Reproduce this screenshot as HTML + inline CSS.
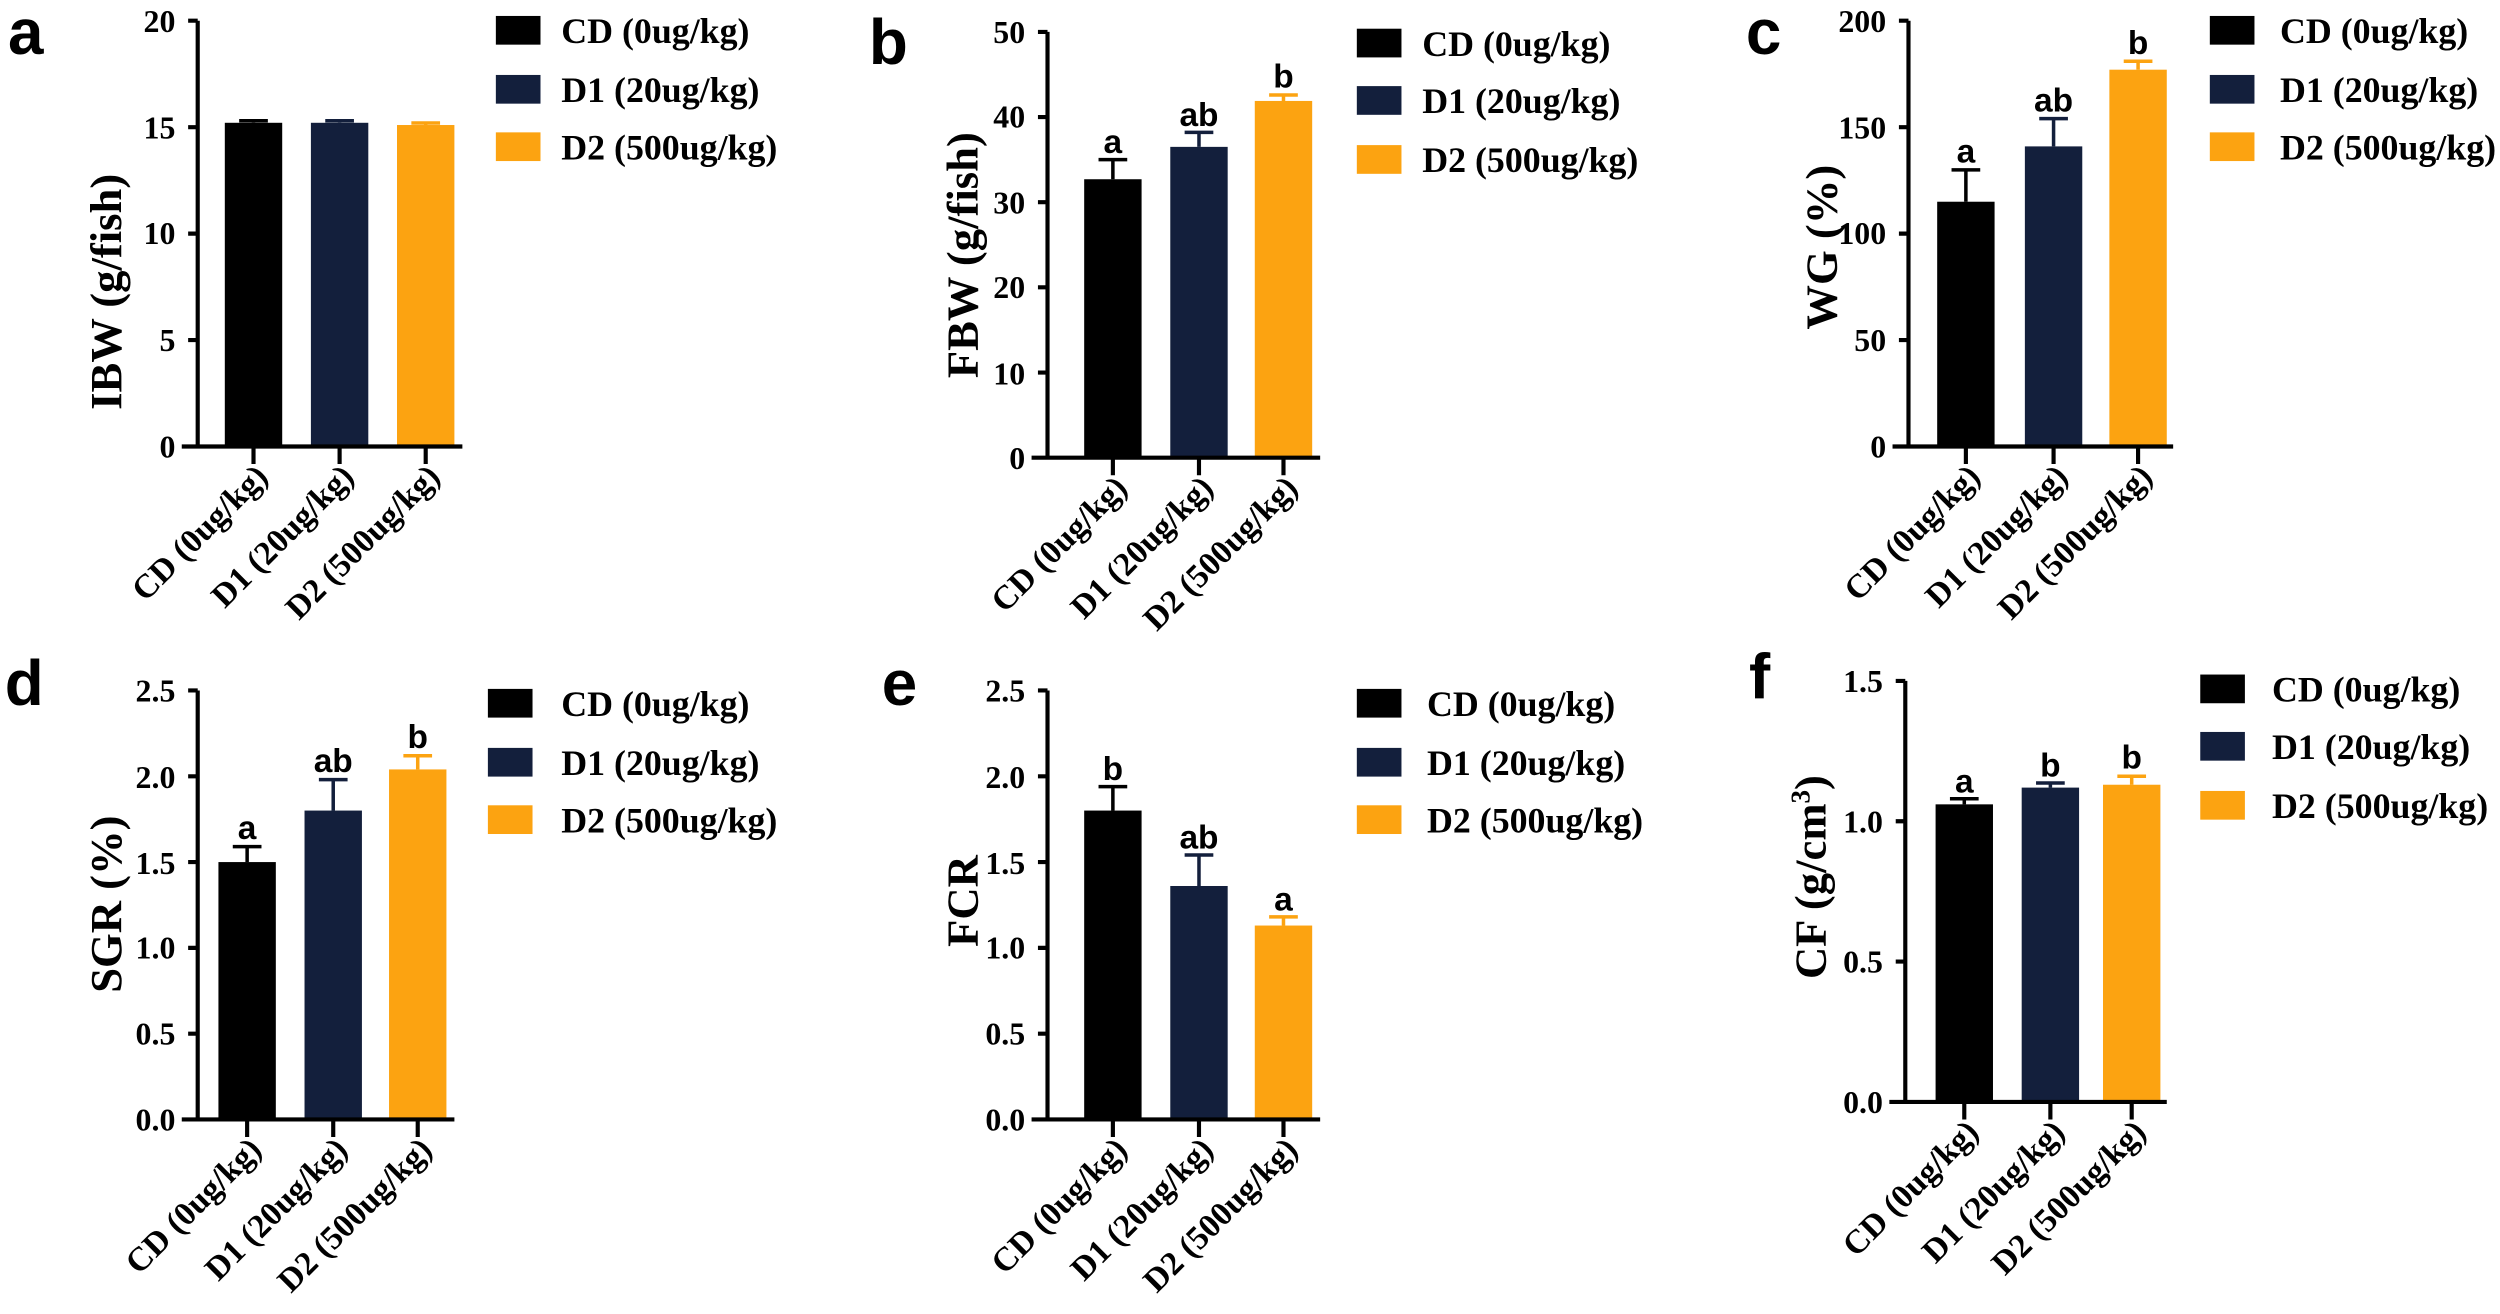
<!DOCTYPE html>
<html><head><meta charset="utf-8"><style>
html,body{margin:0;padding:0;background:#fff;}
svg{display:block;}
.t{font-family:"Liberation Serif",serif;font-weight:bold;font-size:20px;fill:#000;}
.lg{font-family:"Liberation Serif",serif;font-weight:bold;font-size:22.5px;fill:#000;}
.ti{font-family:"Liberation Serif",serif;font-weight:bold;font-size:28px;fill:#000;}
.xl{font-family:"Liberation Serif",serif;font-weight:bold;font-size:21px;fill:#000;}
.pl{font-family:"Liberation Sans",sans-serif;font-weight:bold;font-size:40px;fill:#000;}
.an{font-family:"Liberation Sans",sans-serif;font-weight:bold;font-size:21px;fill:#000;}
.ax{stroke:#000;stroke-width:2.6;fill:none;}
.eb{stroke:#000;stroke-width:2.2;fill:none;}
.eo{stroke:#fca311;stroke-width:2.2;fill:none;}
.en{stroke:#131f3c;stroke-width:2.2;fill:none;}
</style></head><body>
<svg width="2500" height="1314" viewBox="0 0 1568 824" preserveAspectRatio="none" xmlns="http://www.w3.org/2000/svg">
<rect width="1568" height="824" fill="#fff"/>

<!-- ============ Panel a ============ -->
<text class="pl" x="5" y="34">a</text>
<rect x="141" y="77" width="36" height="203" fill="#000"/>
<rect x="195" y="77" width="36" height="203" fill="#131f3c"/>
<rect x="249" y="78.4" width="36" height="201.6" fill="#fca311"/>
<path class="eb" d="M159 77V75.7M150 75.7H168"/>
<path class="en" d="M213 77V75.7M204 75.7H222"/>
<path class="eo" d="M267 78.4V77.1M258 77.1H276"/>
<path class="ax" d="M124 13V280M114 280H290M118 13H124M118 79.75H124M118 146.5H124M118 213.25H124M159 280V291M213 280V291M267 280V291"/>
<g class="t" text-anchor="end">
<text x="110" y="20">20</text><text x="110" y="87">15</text><text x="110" y="153">10</text><text x="110" y="220">5</text><text x="110" y="287">0</text>
</g>
<text class="ti" transform="translate(76,183) rotate(-90)" text-anchor="middle">IBW (g/fish)</text>
<g class="xl" text-anchor="end">
<text transform="translate(169,300) rotate(-45)">CD (0ug/kg)</text>
<text transform="translate(223,300) rotate(-45)">D1 (20ug/kg)</text>
<text transform="translate(277,300) rotate(-45)">D2 (500ug/kg)</text>
</g>
<rect x="311" y="10" width="28" height="18" fill="#000"/>
<rect x="311" y="47" width="28" height="18" fill="#131f3c"/>
<rect x="311" y="83" width="28" height="18" fill="#fca311"/>
<text class="lg" x="352" y="27">CD (0ug/kg)</text>
<text class="lg" x="352" y="64">D1 (20ug/kg)</text>
<text class="lg" x="352" y="100">D2 (500ug/kg)</text>

<!-- ============ Panel b ============ -->
<text class="pl" x="545" y="40">b</text>
<rect x="680" y="112.4" width="36" height="174.6" fill="#000"/>
<rect x="734" y="92.1" width="36" height="194.9" fill="#131f3c"/>
<rect x="787" y="63.3" width="36" height="223.7" fill="#fca311"/>
<path class="eb" d="M698 112.4V100.1M689 100.1H707"/>
<path class="en" d="M752 92.1V83M743 83H761"/>
<path class="eo" d="M805 63.3V59.6M796 59.6H814"/>
<path class="ax" d="M657 20V287M647 287H828M651 20H657M651 73.4H657M651 126.8H657M651 180.2H657M651 233.6H657M698 287V298M752 287V298M805 287V298"/>
<g class="t" text-anchor="end">
<text x="643" y="27">50</text><text x="643" y="80">40</text><text x="643" y="134">30</text><text x="643" y="187">20</text><text x="643" y="241">10</text><text x="643" y="294">0</text>
</g>
<text class="ti" transform="translate(613,160) rotate(-90)" text-anchor="middle">FBW (g/fish)</text>
<g class="an" text-anchor="middle">
<text x="698" y="96">a</text><text x="752" y="79">ab</text><text x="805" y="55">b</text>
</g>
<g class="xl" text-anchor="end">
<text transform="translate(708,307) rotate(-45)">CD (0ug/kg)</text>
<text transform="translate(762,307) rotate(-45)">D1 (20ug/kg)</text>
<text transform="translate(815,307) rotate(-45)">D2 (500ug/kg)</text>
</g>
<rect x="851" y="18" width="28" height="18" fill="#000"/>
<rect x="851" y="54" width="28" height="18" fill="#131f3c"/>
<rect x="851" y="91" width="28" height="18" fill="#fca311"/>
<text class="lg" x="892" y="35">CD (0ug/kg)</text>
<text class="lg" x="892" y="71">D1 (20ug/kg)</text>
<text class="lg" x="892" y="108">D2 (500ug/kg)</text>

<!-- ============ Panel c ============ -->
<text class="pl" x="1095" y="34">c</text>
<rect x="1215" y="126.5" width="36" height="153.5" fill="#000"/>
<rect x="1270" y="91.8" width="36" height="188.2" fill="#131f3c"/>
<rect x="1323" y="43.7" width="36" height="236.3" fill="#fca311"/>
<path class="eb" d="M1233 126.5V106.5M1224 106.5H1242"/>
<path class="en" d="M1288 91.8V74.4M1279 74.4H1297"/>
<path class="eo" d="M1341 43.7V38.4M1332 38.4H1350"/>
<path class="ax" d="M1197 13V280M1187 280H1363M1191 13H1197M1191 79.75H1197M1191 146.5H1197M1191 213.25H1197M1233 280V291M1288 280V291M1341 280V291"/>
<g class="t" text-anchor="end">
<text x="1183" y="20">200</text><text x="1183" y="87">150</text><text x="1183" y="153">100</text><text x="1183" y="220">50</text><text x="1183" y="287">0</text>
</g>
<text class="ti" transform="translate(1152,155) rotate(-90)" text-anchor="middle">WG (%)</text>
<g class="an" text-anchor="middle">
<text x="1233" y="102">a</text><text x="1288" y="70">ab</text><text x="1341" y="34">b</text>
</g>
<g class="xl" text-anchor="end">
<text transform="translate(1243,300) rotate(-45)">CD (0ug/kg)</text>
<text transform="translate(1298,300) rotate(-45)">D1 (20ug/kg)</text>
<text transform="translate(1351,300) rotate(-45)">D2 (500ug/kg)</text>
</g>
<rect x="1386" y="10" width="28" height="18" fill="#000"/>
<rect x="1386" y="47" width="28" height="18" fill="#131f3c"/>
<rect x="1386" y="83" width="28" height="18" fill="#fca311"/>
<text class="lg" x="1430" y="27">CD (0ug/kg)</text>
<text class="lg" x="1430" y="64">D1 (20ug/kg)</text>
<text class="lg" x="1430" y="100">D2 (500ug/kg)</text>

<!-- ============ Panel d ============ -->
<text class="pl" x="3" y="442">d</text>
<rect x="137" y="540.6" width="36" height="161.4" fill="#000"/>
<rect x="191" y="508.3" width="36" height="193.7" fill="#131f3c"/>
<rect x="244" y="482.5" width="36" height="219.5" fill="#fca311"/>
<path class="eb" d="M155 540.6V530.9M146 530.9H164"/>
<path class="en" d="M209 508.3V488.9M200 488.9H218"/>
<path class="eo" d="M262 482.5V473.9M253 473.9H271"/>
<path class="ax" d="M124 433V702M114 702H285M118 433H124M118 486.8H124M118 540.6H124M118 594.4H124M118 648.2H124M155 702V713M209 702V713M262 702V713"/>
<g class="t" text-anchor="end">
<text x="110" y="440">2.5</text><text x="110" y="494">2.0</text><text x="110" y="548">1.5</text><text x="110" y="601">1.0</text><text x="110" y="655">0.5</text><text x="110" y="709">0.0</text>
</g>
<text class="ti" transform="translate(76,567) rotate(-90)" text-anchor="middle">SGR (%)</text>
<g class="an" text-anchor="middle">
<text x="155" y="526">a</text><text x="209" y="484">ab</text><text x="262" y="469">b</text>
</g>
<g class="xl" text-anchor="end">
<text transform="translate(165,722) rotate(-45)">CD (0ug/kg)</text>
<text transform="translate(219,722) rotate(-45)">D1 (20ug/kg)</text>
<text transform="translate(272,722) rotate(-45)">D2 (500ug/kg)</text>
</g>
<rect x="306" y="432" width="28" height="18" fill="#000"/>
<rect x="306" y="469" width="28" height="18" fill="#131f3c"/>
<rect x="306" y="505" width="28" height="18" fill="#fca311"/>
<text class="lg" x="352" y="449">CD (0ug/kg)</text>
<text class="lg" x="352" y="486">D1 (20ug/kg)</text>
<text class="lg" x="352" y="522">D2 (500ug/kg)</text>

<!-- ============ Panel e ============ -->
<text class="pl" x="553" y="442">e</text>
<rect x="680" y="508.3" width="36" height="193.7" fill="#000"/>
<rect x="734" y="555.6" width="36" height="146.4" fill="#131f3c"/>
<rect x="787" y="580.4" width="36" height="121.6" fill="#fca311"/>
<path class="eb" d="M698 508.3V493.3M689 493.3H707"/>
<path class="en" d="M752 555.6V536.2M743 536.2H761"/>
<path class="eo" d="M805 580.4V575M796 575H814"/>
<path class="ax" d="M657 433V702M647 702H828M651 433H657M651 486.8H657M651 540.6H657M651 594.4H657M651 648.2H657M698 702V713M752 702V713M805 702V713"/>
<g class="t" text-anchor="end">
<text x="643" y="440">2.5</text><text x="643" y="494">2.0</text><text x="643" y="548">1.5</text><text x="643" y="601">1.0</text><text x="643" y="655">0.5</text><text x="643" y="709">0.0</text>
</g>
<text class="ti" transform="translate(613,565) rotate(-90)" text-anchor="middle">FCR</text>
<g class="an" text-anchor="middle">
<text x="698" y="489">b</text><text x="752" y="532">ab</text><text x="805" y="571">a</text>
</g>
<g class="xl" text-anchor="end">
<text transform="translate(708,722) rotate(-45)">CD (0ug/kg)</text>
<text transform="translate(762,722) rotate(-45)">D1 (20ug/kg)</text>
<text transform="translate(815,722) rotate(-45)">D2 (500ug/kg)</text>
</g>
<rect x="851" y="432" width="28" height="18" fill="#000"/>
<rect x="851" y="469" width="28" height="18" fill="#131f3c"/>
<rect x="851" y="505" width="28" height="18" fill="#fca311"/>
<text class="lg" x="895" y="449">CD (0ug/kg)</text>
<text class="lg" x="895" y="486">D1 (20ug/kg)</text>
<text class="lg" x="895" y="522">D2 (500ug/kg)</text>

<!-- ============ Panel f ============ -->
<text class="pl" x="1097" y="438">f</text>
<rect x="1214" y="504.4" width="36" height="186.6" fill="#000"/>
<rect x="1268" y="493.9" width="36" height="197.1" fill="#131f3c"/>
<rect x="1319" y="492.1" width="36" height="198.9" fill="#fca311"/>
<path class="eb" d="M1232 504.4V500.9M1223 500.9H1241"/>
<path class="en" d="M1286 493.9V491M1277 491H1295"/>
<path class="eo" d="M1337 492.1V486.8M1328 486.8H1346"/>
<path class="ax" d="M1195 427V691M1185 691H1359M1189 427H1195M1189 515H1195M1189 603H1195M1232 691V702M1286 691V702M1337 691V702"/>
<g class="t" text-anchor="end">
<text x="1181" y="434">1.5</text><text x="1181" y="522">1.0</text><text x="1181" y="610">0.5</text><text x="1181" y="698">0.0</text>
</g>
<text class="ti" transform="translate(1145,550) rotate(-90)" text-anchor="middle">CF (g/cm<tspan dy="-10" font-size="17">3</tspan><tspan dy="10">)</tspan></text>
<g class="an" text-anchor="middle">
<text x="1232" y="497">a</text><text x="1286" y="487">b</text><text x="1337" y="482">b</text>
</g>
<g class="xl" text-anchor="end">
<text transform="translate(1242,711) rotate(-45)">CD (0ug/kg)</text>
<text transform="translate(1296,711) rotate(-45)">D1 (20ug/kg)</text>
<text transform="translate(1347,711) rotate(-45)">D2 (500ug/kg)</text>
</g>
<rect x="1380" y="423" width="28" height="18" fill="#000"/>
<rect x="1380" y="459" width="28" height="18" fill="#131f3c"/>
<rect x="1380" y="496" width="28" height="18" fill="#fca311"/>
<text class="lg" x="1425" y="440">CD (0ug/kg)</text>
<text class="lg" x="1425" y="476">D1 (20ug/kg)</text>
<text class="lg" x="1425" y="513">D2 (500ug/kg)</text>
</svg>
</body></html>
